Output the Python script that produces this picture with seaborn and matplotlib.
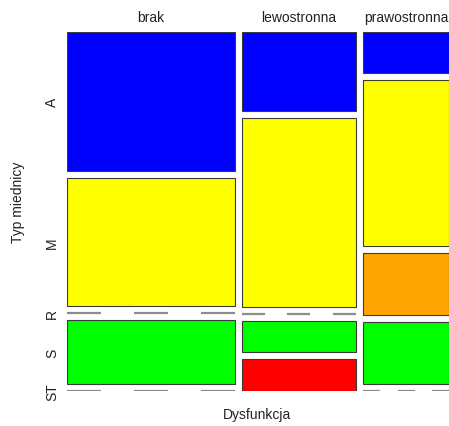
import numpy as np
import pandas as pd
import seaborn as sns
import matplotlib
matplotlib.use("Agg")
import matplotlib.pyplot as plt

# Contingency table: Dysfunkcja (columns) x Typ miednicy (rows)
dysfunkcja = ["brak", "lewostronna", "prawostronna"]
typ_miednicy = ["A", "M", "R", "S", "ST"]
brak = [13, 12, 0, 6, 0]
lewostronna = [5, 12, 0, 2, 2]
prawostronna = [2, 8, 3, 3, 0]
kolory = ["#0000FF", "#FFFF00", "#FFA500", "#00FF00", "#FF0000"]

tab = pd.DataFrame({"brak": brak, "lewostronna": lewostronna,
                    "prawostronna": prawostronna}, index=typ_miednicy)

sns.set_theme(style="white")
plt.rcParams["font.family"] = ["Liberation Sans", "DejaVu Sans"]

W, H = 449, 427
fig = plt.figure(figsize=(W / 100, H / 100), dpi=100)

gap_x = 1.35          # gap between columns, in count units
gap_y = 0.0211        # gap between rows, in proportion units
n_rows = len(typ_miednicy)
x_total = tab.values.sum() + gap_x * (len(dysfunkcja) - 1)
y_total = 1 + gap_y * (n_rows - 1)

# plot region in pixels
left_px, top_px, bottom_px = 67, 33, 392
px_per_unit = 5.41
width_px = x_total * px_per_unit
ax = fig.add_axes([left_px / W, (H - bottom_px) / H, width_px / W,
                   (bottom_px - top_px) / H])
ax.set_xlim(0, x_total)
ax.set_ylim(0, y_total)
ax.set_axis_off()

txt = "#222222"
x0 = 0.0
row_centers = None
for j, col in enumerate(dysfunkcja):
    counts = tab[col].values
    n = counts.sum()
    props = counts / n
    top = y_total
    centers = []
    for i, (lvl, p) in enumerate(zip(typ_miednicy, props)):
        if p > 0:
            ax.bar(x0, p, width=n, bottom=top - p, align="edge",
                   color=kolory[i], edgecolor="#3a3a3a", linewidth=0.8)
        else:
            # empty cell: dashed grey line across the column
            for k in (0, 2, 4):
                ax.hlines(top, x0 + k * n / 5, x0 + (k + 1) * n / 5,
                          color="#8c8c8c", linewidth=1.6)
        centers.append(top - p / 2)
        top -= p + gap_y
    if row_centers is None:
        row_centers = centers
    fig.text((left_px + (x0 + n / 2) * px_per_unit) / W, 1 - 18 / H, col,
             ha="center", va="center", fontsize=10, color=txt)
    x0 += n + gap_x

# row labels from the first column's cells
for lvl, c in zip(typ_miednicy, row_centers):
    y_px = bottom_px - c / y_total * (bottom_px - top_px)
    fig.text(52 / W, 1 - y_px / H, lvl, rotation=90, ha="center",
             va="center", fontsize=10, color=txt)

fig.text(257 / W, 1 - 415 / H, "Dysfunkcja", ha="center", va="center",
         fontsize=10, color=txt)
fig.text(18 / W, 1 - 202 / H, "Typ miednicy", rotation=90, ha="center",
         va="center", fontsize=10, color=txt)

fig.savefig("out.png", dpi=100)
